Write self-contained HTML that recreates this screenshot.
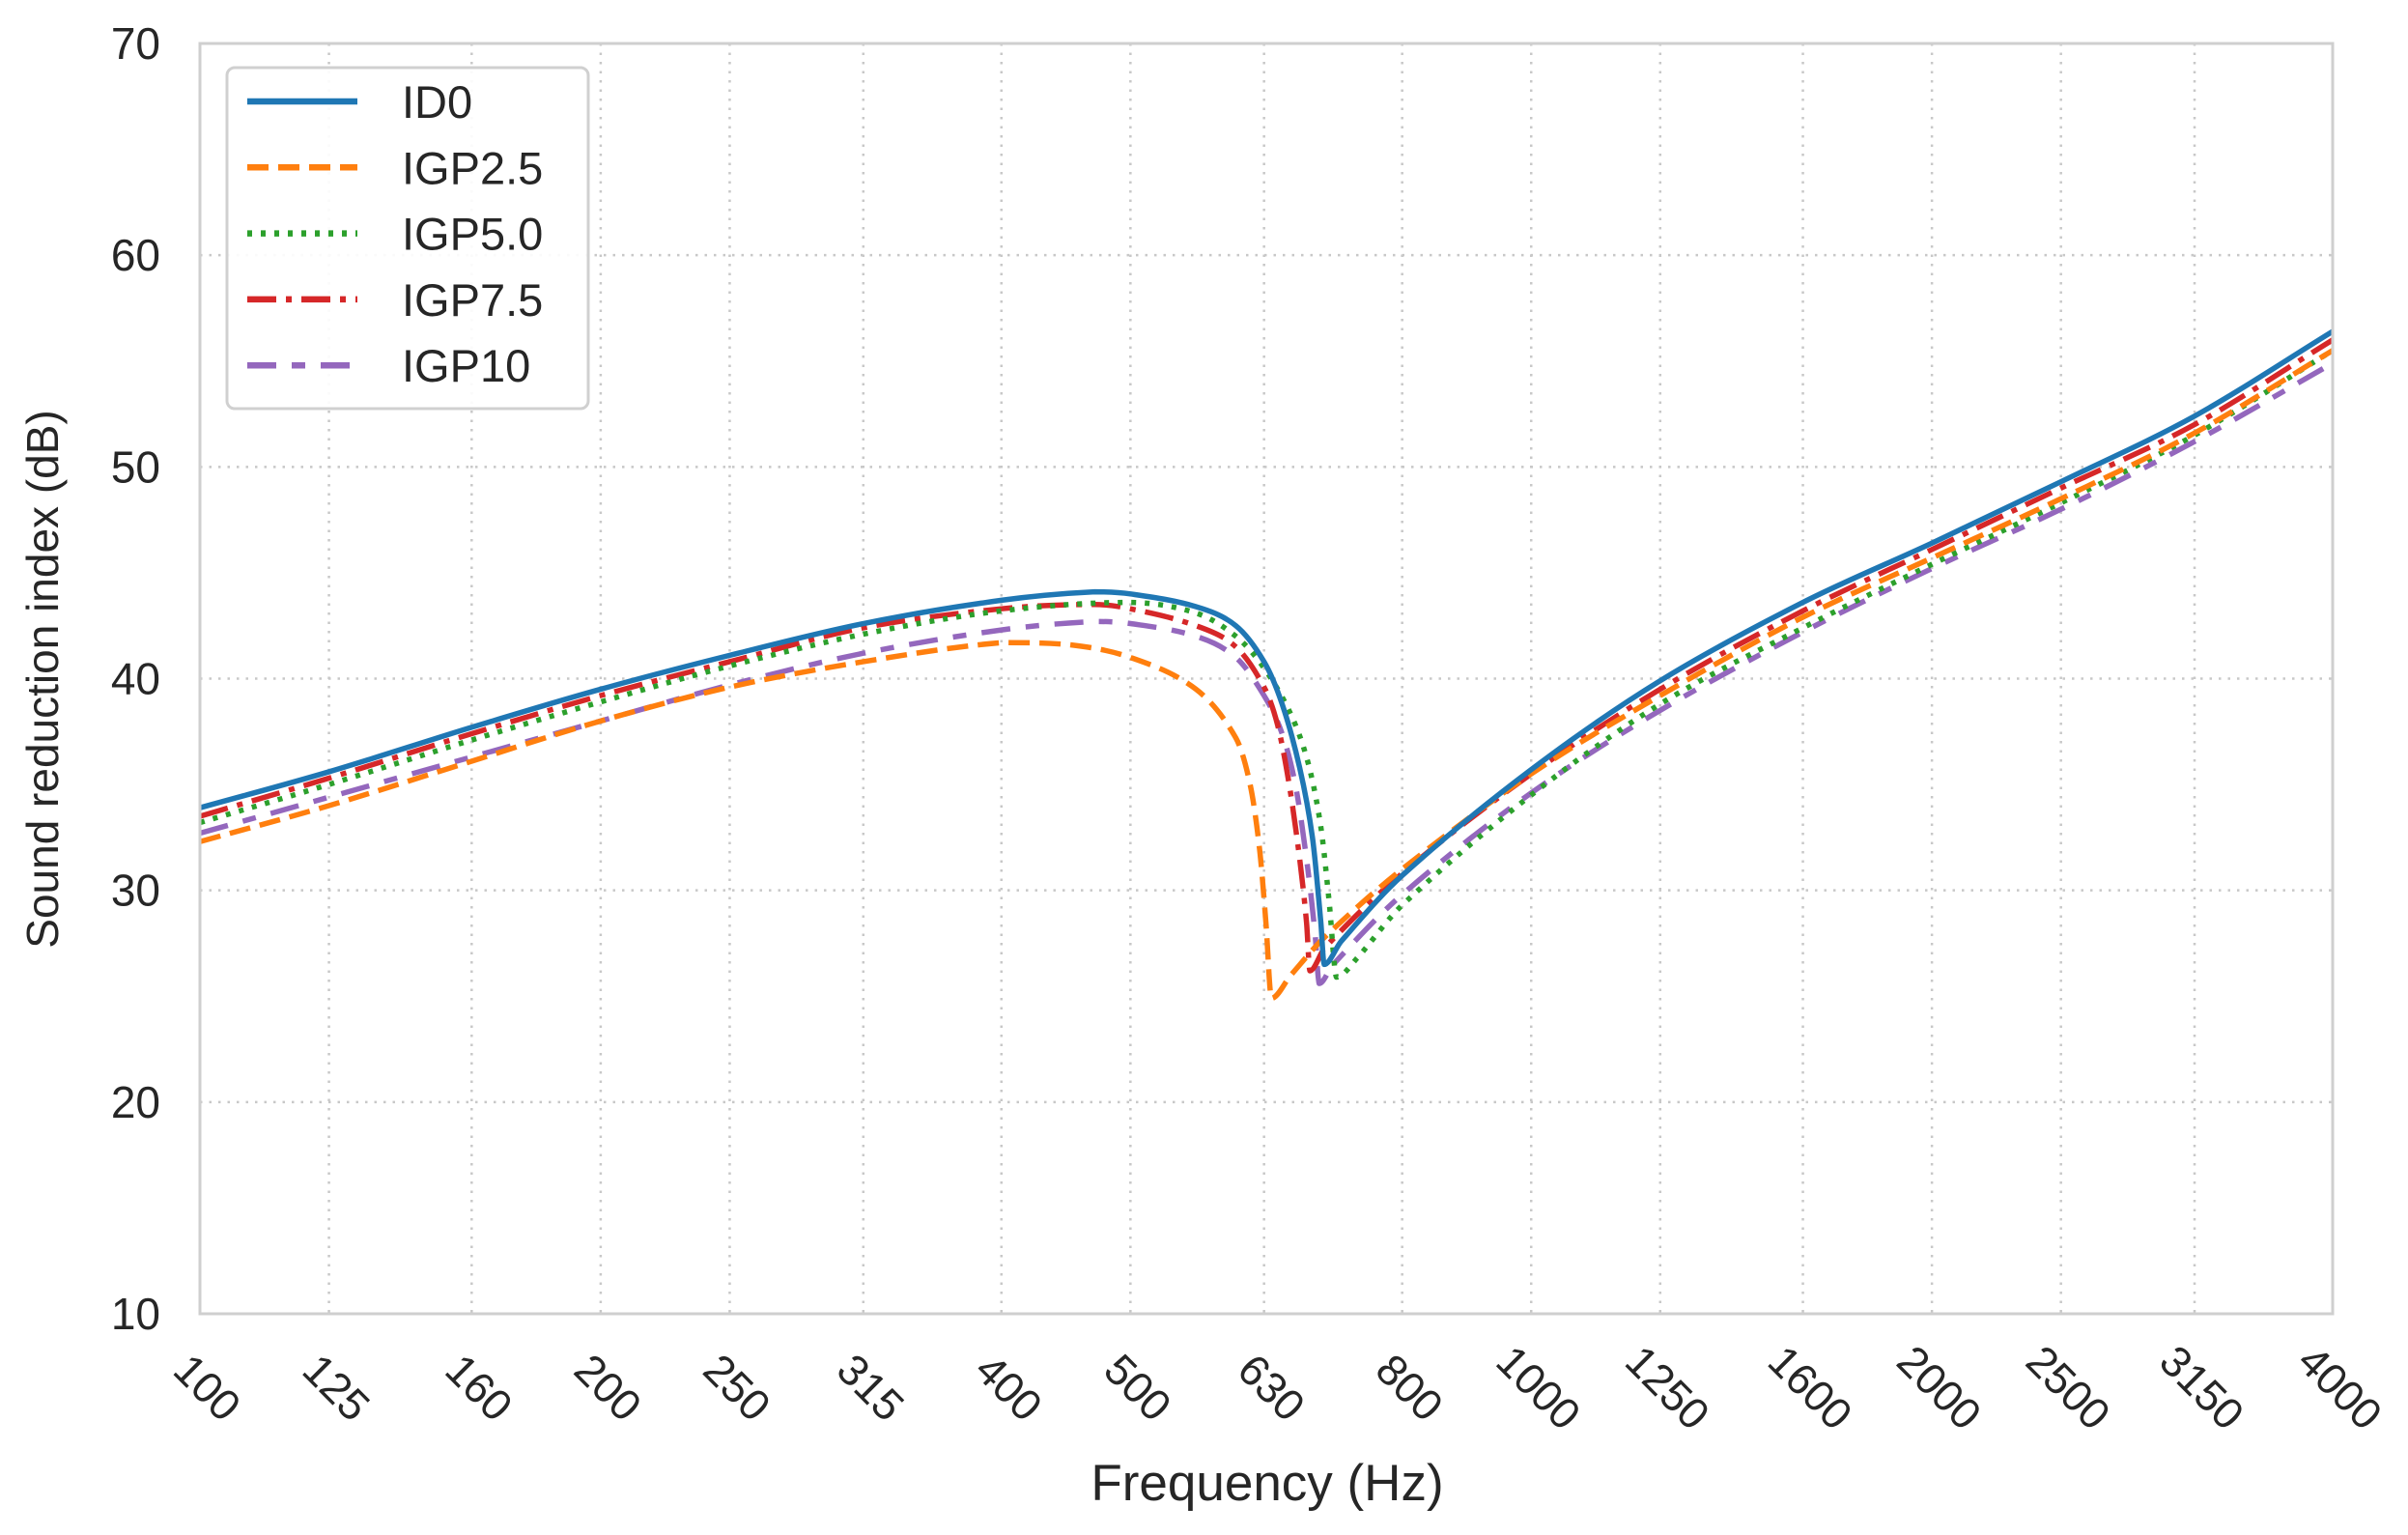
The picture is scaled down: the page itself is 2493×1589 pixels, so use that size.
<!DOCTYPE html>
<html><head><meta charset="utf-8"><style>
html,body{margin:0;padding:0;background:#fff;}
svg text{font-family:"Liberation Sans",Arial,sans-serif;fill:#262626;}
</style></head><body>
<svg id="chart" width="2493" height="1584" viewBox="0 0 2493 1584" xmlns="http://www.w3.org/2000/svg">
<rect width="2493" height="1584" fill="#fff"/>
<g id="grid"></g>
<g id="series"></g>
<rect x="207" y="45" width="2208" height="1315" fill="none" stroke="#cfcfcf" stroke-width="3"/>
<g id="ticks"></g>
<text x="60" y="703" font-size="46" text-anchor="middle" transform="rotate(-90 60 703)">Sound reduction index (dB)</text>
<text x="1312" y="1553" font-size="53" text-anchor="middle">Frequency (Hz)</text>
<g id="legend">
<rect x="235" y="70" width="374" height="353" rx="8" fill="#fff" fill-opacity="0.9" stroke="#d0d0d0" stroke-width="3"/>
</g>
</svg>
<script>
const xTicks = [100,125,160,200,250,315,400,500,630,800,1000,1250,1600,2000,2500,3150,4000];
const yTicks = [10,20,30,40,50,60,70];
const seriesNames = ["ID0","IGP2.5","IGP5.0","IGP7.5","IGP10"];
const fID0 = [100,125,160,200,250,315,400,470,500,560,600,630,650,670,685,695,699,720,800,1000,1250,1600,2000,2500,3150,4000];
const vID0 = [33.9,35.6,37.7,39.5,41.1,42.6,43.7,44.1,44.0,43.4,42.5,40.8,38.8,35.8,32.5,28.5,26.5,27.6,30.7,35.7,39.9,43.6,46.4,49.3,52.4,56.4];
const fIGP25 = [100,125,160,200,250,315,400,450,500,560,600,615,625,632,638,660,700,800,1000,1250,1600,2000,2500,3150,4000];
const vIGP25 = [32.3,34.0,36.1,38.0,39.6,40.8,41.7,41.6,41.0,39.5,37.2,35.0,32.0,28.5,24.9,26.0,27.8,31.0,35.5,39.2,42.9,45.7,48.5,51.6,55.5];
const fIGP50 = [100,125,160,200,250,315,400,500,560,600,630,660,680,695,705,714,740,800,1000,1250,1600,2000,2500,3150,4000];
const vIGP50 = [33.2,35.0,37.1,38.9,40.6,42.1,43.2,43.6,43.1,42.0,40.5,38.3,36.0,33.0,29.5,25.9,26.8,29.3,34.5,38.8,42.4,45.4,48.3,51.5,55.5];
const fIGP75 = [100,125,160,200,250,315,400,470,500,560,600,630,645,658,670,678,682,700,800,1000,1250,1600,2000,2500,3150,4000];
const vIGP75 = [33.5,35.3,37.4,39.2,40.8,42.4,43.3,43.5,43.3,42.5,41.5,39.6,37.8,35.0,31.5,28.5,26.2,27.3,30.8,35.5,39.5,43.2,46.1,49.0,52.0,56.0];
const fIGP10 = [100,125,160,200,250,315,400,470,500,560,600,630,650,665,678,688,693,710,800,1000,1250,1600,2000,2500,3150,4000];
const vIGP10 = [32.7,34.4,36.3,38.0,39.7,41.2,42.3,42.7,42.6,42.0,41.0,39.2,37.4,35.0,31.5,28.0,25.6,26.5,29.8,34.6,38.5,42.2,45.2,48.0,51.2,54.9];

const L=207,R=2415,T=45,B=1360;
const X = f => L + (R-L)*Math.log10(f/100)/Math.log10(40);
const Y = v => B - (B-T)*(v-10)/60;
const NS="http://www.w3.org/2000/svg";
const mk=(t,a,p)=>{const e=document.createElementNS(NS,t);for(const k in a)e.setAttribute(k,a[k]);p.appendChild(e);return e;};
const grid=document.getElementById('grid'), ticks=document.getElementById('ticks');
xTicks.forEach(f=>{
  const l=mk('line',{x1:X(f),x2:X(f),y1:T,y2:B,stroke:'#c8c8c8','stroke-width':2.5,'stroke-dasharray':'2.5 7'},grid);
  
  
  const cx=X(f)+8, cy=1436;
  const t=mk('text',{x:cx,y:cy+16,'font-size':45,'text-anchor':'middle',transform:`rotate(45 ${cx} ${cy})`},ticks);
  t.textContent=f;
  
  
});
yTicks.forEach(v=>{
  if(v>10&&v<70){const l=mk('line',{x1:L,x2:R,y1:Y(v),y2:Y(v),stroke:'#c8c8c8','stroke-width':2.5,'stroke-dasharray':'2.5 7'},grid);
  
  }
  const t=mk('text',{x:166,y:Y(v)+16,'font-size':46,'text-anchor':'end'},ticks);
  t.textContent=v;
  
  
});
const styles=[
 {c:'#1f77b4',d:''},
 {c:'#ff7f0e',d:'22 10'},
 {c:'#2ca02c',d:'5 9'},
 {c:'#d62728',d:'30 10 6 10'},
 {c:'#9467bd',d:'30 16 14 16'}];
const fs=[fID0,fIGP25,fIGP50,fIGP75,fIGP10], vs=[vID0,vIGP25,vIGP50,vIGP75,vIGP10];
const sg=document.getElementById('series');
function pathFor(fa,va){
  const p=fa.map((f,i)=>[X(f),Y(va[i])]);
  let d=`M${p[0][0]},${p[0][1]}`;
  for(let i=0;i<p.length-1;i++){
    const p0=p[Math.max(0,i-1)],p1=p[i],p2=p[i+1],p3=p[Math.min(p.length-1,i+2)];
    const dx=p2[0]-p1[0];
    const s1=(p2[1]-p0[1])/Math.max(1,(p2[0]-p0[0]));
    const s2=(p3[1]-p1[1])/Math.max(1,(p3[0]-p1[0]));
    const seg=(p2[1]-p1[1])/Math.max(1,dx);
    const t1=(Math.sign(s1)===Math.sign(seg))?Math.sign(seg)*Math.min(Math.abs(s1),3*Math.abs(seg)):0;
    const t2=(Math.sign(s2)===Math.sign(seg))?Math.sign(seg)*Math.min(Math.abs(s2),3*Math.abs(seg)):0;
    d+=` C${p1[0]+dx/3},${p1[1]+t1*dx/3} ${p2[0]-dx/3},${p2[1]-t2*dx/3} ${p2[0]},${p2[1]}`;
  }
  return d;
}
for(let s=4;s>=0;s--){
  const pth=mk('path',{d:pathFor(fs[s],vs[s]),fill:'none',stroke:styles[s].c,'stroke-width':5.5,'stroke-dasharray':styles[s].d,'stroke-linejoin':'round'},sg);
  
  
}
const lg=document.getElementById('legend');
seriesNames.forEach((n,i)=>{
  const y=105+i*68.3;
  const ln=mk('line',{x1:256,x2:370,y1:y,y2:y,stroke:styles[i].c,'stroke-width':6.5,'stroke-dasharray':styles[i].d},lg);
  
  
  const t=mk('text',{x:416,y:y+17,'font-size':47},lg);
  t.textContent=n;
  
  
});
</script>
</body></html>
